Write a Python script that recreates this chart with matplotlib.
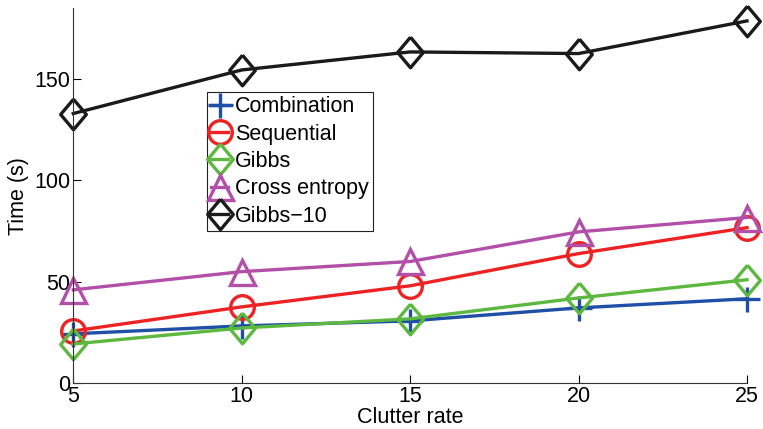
import numpy as np
import matplotlib.pyplot as plt

plt.rcParams['font.family'] = ['Liberation Sans', 'DejaVu Sans']

clutter = [5, 10, 15, 20, 25]
combination = [24.3, 28.2, 30.7, 37.1, 41.6]
sequential = [25.7, 37.6, 48.0, 63.9, 76.7]
gibbs = [19.3, 27.2, 31.7, 42.0, 51.0]
cross_entropy = [46.0, 55.0, 60.0, 74.6, 81.7]
gibbs10 = [133.0, 154.5, 163.4, 162.6, 178.7]

labels = ['Combination', 'Sequential', 'Gibbs', 'Cross entropy', 'Gibbs\u221210']
colors = ['#1f4fa6', '#ee2222', '#5cb83e', '#b24fa8', '#1a1a1a']

# MATLAB-like diamond: a bit taller than wide
diamond = [(0, 1), (0.84, 0), (0, -1), (-0.84, 0), (0, 1)]
markers = ['+', 'o', diamond, '^', diamond]
sizes = [18, 17, 22, 18, 22]

fig = plt.figure(figsize=(7.63, 4.29), dpi=100)
ax = fig.add_axes([0.096, 0.107, 0.883, 0.874])

series = [combination, sequential, gibbs, cross_entropy, gibbs10]
for ys, lab, c, m, s in zip(series, labels, colors, markers, sizes):
    ax.plot(clutter, ys, color=c, lw=2.4, marker=m, ms=s, mew=2.4,
            mfc='none', label=lab, clip_on=False)

ax.set_xlim(5, 25)
ax.set_ylim(0, 185)
ax.set_xticks(clutter)
ax.set_yticks([0, 50, 100, 150])
ax.spines['top'].set_visible(False)
ax.spines['right'].set_visible(False)
for sp in ['left', 'bottom']:
    ax.spines[sp].set_linewidth(0.8)
    ax.spines[sp].set_color('#333333')
ax.tick_params(direction='in', length=6, labelsize=15.5, pad=2)
ax.set_xlabel('Clutter rate', fontsize=15.5, labelpad=0)
ax.set_ylabel('Time (s)', fontsize=15.5, labelpad=4)

leg = ax.legend(loc='upper left', bbox_to_anchor=(0.271, 0.786),
                bbox_transform=fig.transFigure, fontsize=15.5,
                handlelength=0.8, handletextpad=0.3, labelspacing=0.3,
                borderpad=0.2, borderaxespad=0, fancybox=False,
                framealpha=1, edgecolor='#222222')
leg.get_frame().set_linewidth(0.8)

fig.savefig('out.png', dpi=100)
